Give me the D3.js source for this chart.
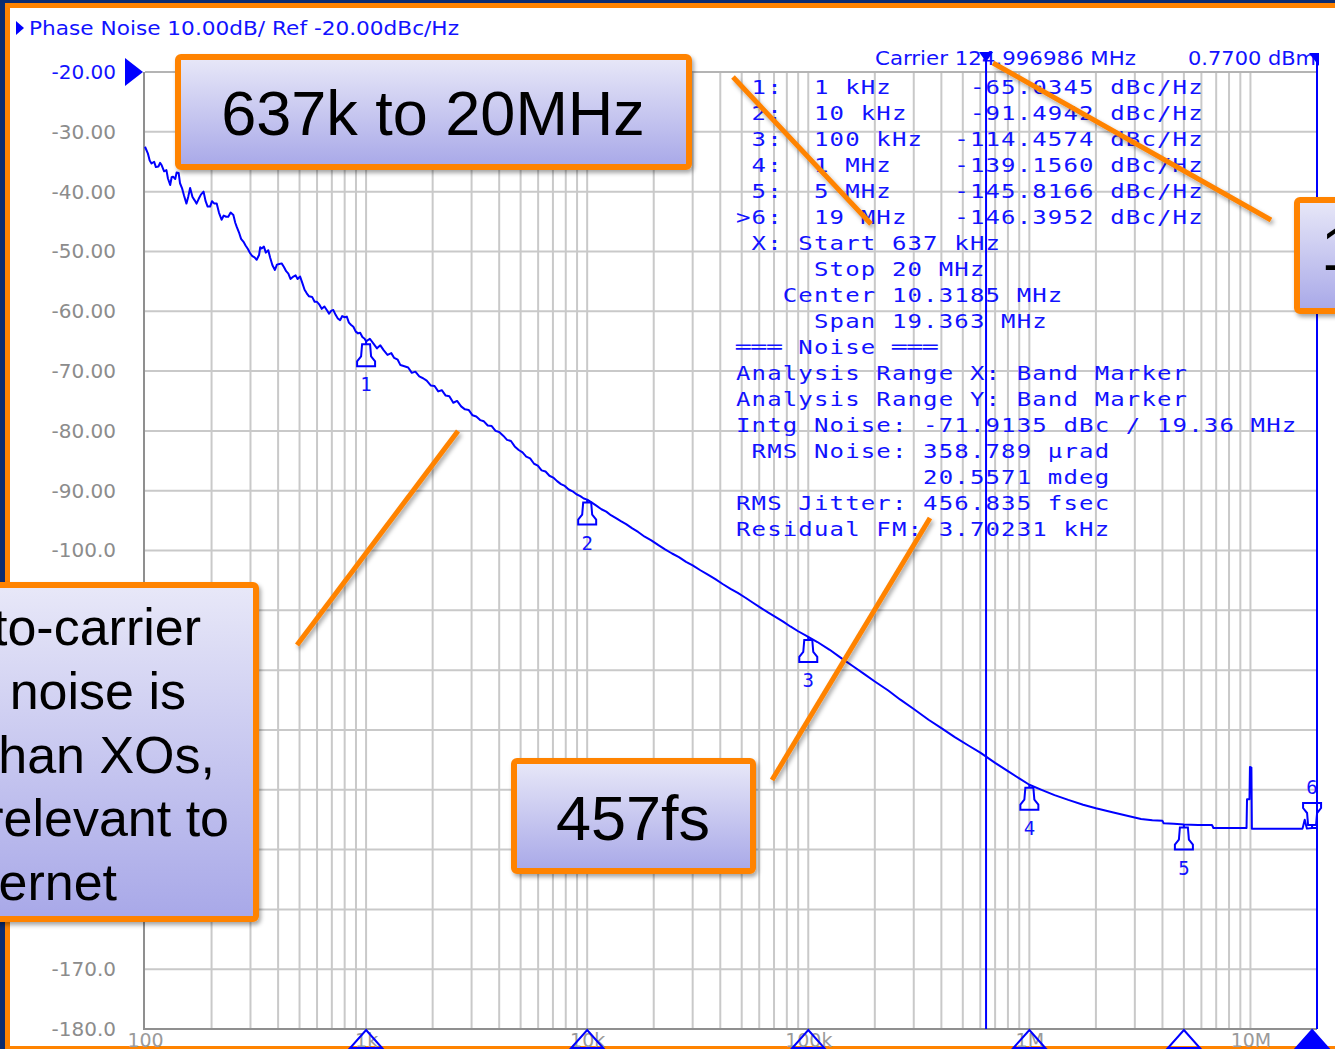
<!DOCTYPE html>
<html>
<head>
<meta charset="utf-8">
<script src="https://cdn.jsdelivr.net/npm/d3@7"></script>
<style>
  html, body { margin: 0; padding: 0; background: #fff; overflow: hidden; }
  svg { display: block; }
  text { white-space: pre; }
</style>
</head>
<body>
<svg id="chart" width="1335" height="1049"></svg>
<script>
// ---- Phase noise trace: offset frequency (Hz) and L(f) (dBc/Hz) ----
const traceFreq = [
  100, 103, 105, 107, 110, 112, 115, 117, 119, 122, 125, 127, 130, 132, 134, 137, 139, 142, 144, 147,
  150, 154, 157, 160, 164, 168, 171, 175, 179, 184, 188, 192, 197, 201, 206, 211, 216, 222, 227, 233,
  238, 244, 251, 256, 260, 266, 272, 279, 285, 292, 299, 306, 313, 320, 328, 332, 337, 345, 352, 361,
  368, 377, 387, 395, 405, 415, 425, 435, 445, 455, 469, 480, 490, 503, 515, 527, 539, 552, 570, 585,
  598, 615, 630, 648, 664, 680, 697, 711, 728, 745, 763, 780, 800, 818, 836, 856, 876, 898, 920, 940,
  962, 985, 1000,
  1040, 1080, 1120, 1160, 1200, 1250, 1300, 1340, 1390, 1430, 1490, 1550, 1610, 1670, 1740, 1810, 1880,
  1960, 2040, 2120, 2200, 2290, 2380, 2480, 2580, 2690, 2800, 2910, 3030, 3150, 3280, 3410, 3550, 3700,
  3850, 4000, 4170, 4340, 4520, 4700, 4900, 5100, 5300, 5520, 5750, 5980, 6220, 6480, 6750, 7020, 7310,
  7610, 7920, 8250, 8590, 8940, 9310, 9650, 10000,
  10500, 11000, 11600, 12200, 12800, 13500, 14200, 15000, 16000, 17000, 18200, 19500, 21000, 22500,
  24200, 26000, 28000, 30000, 32500, 35000, 38000, 41000, 44500, 48000, 52000, 56000, 61000, 66000,
  71000, 77000, 83000, 90000, 100000,
  110000, 125000, 140000, 160000, 180000, 200000, 230000, 260000, 300000, 350000, 400000, 460000,
  530000, 600000, 700000, 800000, 900000, 1000000,
  1150000, 1300000, 1500000, 1750000, 2000000, 2400000, 2800000, 3200000, 3600000, 4000000, 4050000,
  4500000, 5000000, 5800000, 6700000, 6800000, 9600000, 9650000, 9900000, 9950000, 10100000, 10150000,
  17200000, 17600000, 18000000, 19000000, 20000000
];
const traceDb = [
  -32.5, -33.6, -34.8, -35.3, -35.0, -35.9, -35.8, -35.2, -35.6, -36.6, -36.4, -37.8, -38.9, -37.6, -37.5, -37.9, -36.8, -36.9, -38.6, -39.4,
  -40.6, -42.0, -40.8, -39.4, -40.9, -41.5, -42.0, -41.2, -40.5, -40.0, -41.6, -42.5, -42.5, -41.6, -42.0, -42.0, -43.5, -44.7, -44.0, -44.2,
  -44.2, -43.5, -43.9, -45.2, -45.9, -46.8, -47.9, -48.4, -49.0, -49.6, -50.3, -50.8, -51.0, -51.4, -50.6, -49.3, -49.5, -49.2, -50.2, -49.8,
  -51.0, -52.3, -53.1, -52.2, -52.1, -52.0, -52.6, -53.3, -53.7, -54.6, -54.2, -54.0, -54.6, -54.2, -55.3, -56.4, -57.0, -57.5, -57.6, -58.4,
  -58.4, -58.9, -59.6, -59.2, -59.8, -60.4, -59.9, -59.8, -60.6, -61.2, -61.5, -60.8, -61.0, -60.9, -61.9, -62.3, -62.6, -63.4, -63.7, -63.6,
  -64.3, -64.6, -65.03,
  -64.6, -65.4, -66.2, -65.7, -66.5, -67.3, -67.0, -67.8, -68.1, -69.0, -69.2, -69.4, -70.3, -70.1, -70.9, -71.2, -71.6,
  -72.4, -72.5, -73.4, -73.2, -74.1, -74.2, -75.3, -75.0, -75.9, -76.4, -76.5, -77.4, -77.6, -78.2, -78.4, -79.1, -79.2,
  -80.0, -80.2, -80.8, -81.5, -81.7, -82.6, -83.2, -83.6, -84.3, -84.6, -85.5, -85.8, -86.6, -86.8, -87.5, -87.8, -88.4,
  -88.9, -89.2, -89.8, -90.1, -90.6, -90.9, -91.3, -91.49,
  -92.0, -92.5, -93.1, -93.5, -94.1, -94.6, -95.1, -95.6, -96.3, -96.9, -97.7, -98.3, -99.1, -99.8,
  -100.5, -101.1, -101.9, -102.5, -103.3, -104.0, -104.8, -105.6, -106.4, -107.1, -107.9, -108.7, -109.6, -110.4,
  -111.1, -111.9, -112.7, -113.5, -114.46,
  -115.3, -116.6, -117.9, -119.4, -120.7, -121.9, -123.4, -124.9, -126.5, -128.3, -129.7, -131.2,
  -132.6, -133.8, -135.5, -136.9, -138.1, -139.16,
  -140.1, -140.9, -141.7, -142.5, -143.1, -143.8, -144.4, -144.9, -145.1, -145.2, -145.6,
  -145.7, -145.82, -145.9, -145.9, -146.4, -146.4, -141.6, -141.6, -136.2, -136.3, -146.5,
  -146.5, -145.0, -146.5, -146.4, -146.4
];

// ---- Markers ----
const markerFreq = [1e3, 1e4, 1e5, 1e6, 5e6, 19e6];
const markerFreqLabel = ["1 kHz", "10 kHz", "100 kHz", "1 MHz", "5 MHz", "19 MHz"];
const markerDb = [-65.0345, -91.4942, -114.4574, -139.1560, -145.8166, -146.3952];
const activeMarker = 5;

// ---- Band (integration range) ----
const bandStart = 637e3;
const bandStop = 20e6;

// ---- Axes ----
const yGridValues = [-30, -40, -50, -60, -70, -80, -90, -100, -110, -120, -130, -140, -150, -160, -170];
const yTickValues = [-20, -30, -40, -50, -60, -70, -80, -90, -100, -170, -180];
const yTickLabels = ["-20.00", "-30.00", "-40.00", "-50.00", "-60.00", "-70.00", "-80.00", "-90.00",
  "-100.0", "-170.0", "-180.0"];
const xTickValues = [1e2, 1e3, 1e4, 1e5, 1e6, 1e7];
const xTickLabels = ["100", "1k", "10k", "100k", "1M", "10M"];

// ---- Readout text ----
const headerText = "Phase Noise 10.00dB/ Ref -20.00dBc/Hz";
const carrierText = "Carrier 124.996986 MHz";
const carrierPower = "0.7700 dBm";
const infoLines = [
  " X: Start 637 kHz",
  "     Stop 20 MHz",
  "   Center 10.3185 MHz",
  "     Span 19.363 MHz",
  "═══ Noise ═══",
  "Analysis Range X: Band Marker",
  "Analysis Range Y: Band Marker",
  "Intg Noise: -71.9135 dBc / 19.36 MHz",
  " RMS Noise: 358.789 µrad",
  "            20.5571 mdeg",
  "RMS Jitter: 456.835 fsec",
  "Residual FM: 3.70231 kHz"
];

// ---- Slide callouts ----
const calloutRange = "637k to 20MHz";
const calloutJitter = "457fs";
const calloutNote = ["Close-to-carrier", "phase noise is", "worse than XOs,", "but not relevant to", "Ethernet"];
const calloutRight = "125MHz";

// ================= drawing =================
const svg = d3.select("#chart");
const W = 1335, H = 1049;
const BLUE = "#0000ff", TXT_BLUE = "#1212ff", GRID = "#c9c9c9", AXIS = "#8f8f8f";
const ORANGE = "#ff8300", NAVY = "#0c2c70";

const defs = svg.append("defs");
const grad = defs.append("linearGradient").attr("id", "boxFill")
  .attr("x1", 0).attr("y1", 0).attr("x2", 0).attr("y2", 1);
grad.append("stop").attr("offset", "0%").attr("stop-color", "#e8e8f8");
grad.append("stop").attr("offset", "100%").attr("stop-color", "#a8a8e8");
const shadow = defs.append("filter").attr("id", "shadow")
  .attr("x", "-10%").attr("y", "-10%").attr("width", "130%").attr("height", "130%");
shadow.append("feDropShadow").attr("dx", 2).attr("dy", 3).attr("stdDeviation", 2)
  .attr("flood-color", "#000").attr("flood-opacity", 0.35);

// slide frame
svg.append("rect").attr("width", W).attr("height", H).attr("fill", "#fff");
svg.append("rect").attr("x", 0).attr("y", 0).attr("width", W).attr("height", 3).attr("fill", NAVY);
svg.append("rect").attr("x", 0).attr("y", 3).attr("width", W).attr("height", 5).attr("fill", ORANGE);
svg.append("rect").attr("x", 0).attr("y", 0).attr("width", 5).attr("height", H).attr("fill", NAVY);
svg.append("rect").attr("x", 5).attr("y", 3).attr("width", 5).attr("height", H).attr("fill", ORANGE);
svg.append("rect").attr("x", 5).attr("y", 1046).attr("width", W).attr("height", 3).attr("fill", ORANGE);

// scales
const x = d3.scaleLog().domain([100, 2e7]).range([145, 1317]);
const y = d3.scaleLinear().domain([-20, -180]).range([72, 1029]);
const [x0, x1] = x.range();
const [y0, y1] = y.range();

// grid
const grid = svg.append("g");
grid.selectAll("line.v").data(x.ticks().filter(d => d > 100 && d < 2e7)).join("line")
  .attr("x1", d => x(d)).attr("x2", d => x(d)).attr("y1", y0).attr("y2", y1)
  .attr("stroke", GRID).attr("stroke-width", 2);
grid.selectAll("line.h").data(yGridValues).join("line")
  .attr("x1", x0).attr("x2", x1).attr("y1", d => y(d)).attr("y2", d => y(d))
  .attr("stroke", GRID).attr("stroke-width", 2);
grid.append("line").attr("x1", x0).attr("x2", x1).attr("y1", y0).attr("y2", y0)
  .attr("stroke", "#b4b4b4").attr("stroke-width", 2);
grid.append("line").attr("x1", x0 - 1).attr("x2", x0 - 1).attr("y1", y0).attr("y2", y1 + 1)
  .attr("stroke", AXIS).attr("stroke-width", 2);
grid.append("line").attr("x1", x0 - 1).attr("x2", x1).attr("y1", y1).attr("y2", y1)
  .attr("stroke", AXIS).attr("stroke-width", 2);

// y axis labels
const yAxis = svg.append("g").attr("transform", `translate(${x0},0)`)
  .call(d3.axisLeft(y).tickValues(yTickValues).tickFormat((d, i) => yTickLabels[i]).tickSize(0).tickPadding(29));
yAxis.select(".domain").remove();
yAxis.selectAll("text").attr("font-family", "DejaVu Sans, sans-serif").attr("font-size", 20)
  .attr("fill", (d, i) => i === 0 ? TXT_BLUE : "#8c8c8c");
// reference level pointer
svg.append("path").attr("d", `M125,58 L143,${y0} L125,86 Z`).attr("fill", BLUE);

// x axis labels
const xAxis = svg.append("g").attr("transform", `translate(0,${y1})`)
  .call(d3.axisBottom(x).tickValues(xTickValues).tickFormat((d, i) => xTickLabels[i]).tickSize(0).tickPadding(4));
xAxis.select(".domain").remove();
xAxis.selectAll("text").attr("font-family", "DejaVu Sans, sans-serif").attr("font-size", 19).attr("fill", "#9a9a9a");

// header
svg.append("path").attr("d", "M16,21 L24,28 L16,35 Z").attr("fill", BLUE);
svg.append("text").attr("x", 29).attr("y", 35).text(headerText)
  .attr("font-family", "DejaVu Sans, sans-serif").attr("font-size", 19).attr("fill", TXT_BLUE)
  .attr("textLength", 430).attr("lengthAdjust", "spacingAndGlyphs");

// carrier readout
svg.append("text").attr("x", 875).attr("y", 65).text(carrierText)
  .attr("font-family", "DejaVu Sans, sans-serif").attr("font-size", 19).attr("fill", TXT_BLUE)
  .attr("textLength", 261).attr("lengthAdjust", "spacingAndGlyphs");
svg.append("text").attr("x", 1188).attr("y", 65).text(carrierPower)
  .attr("font-family", "DejaVu Sans, sans-serif").attr("font-size", 19).attr("fill", TXT_BLUE)
  .attr("textLength", 128).attr("lengthAdjust", "spacingAndGlyphs");

// marker / noise table (monospace columns, 15.6px pitch)
const tableX = 736, rowTop = 87, rowH = 26, stretch = 1.2;
const markerRows = markerDb.map((v, i) => {
  const val = v.toFixed(4);
  const head = (i === activeMarker ? ">" : " ") + (i + 1) + ":  " + markerFreqLabel[i];
  return head.padEnd(23 - val.length) + val + " dBc/Hz";
});
const allRows = markerRows.concat(infoLines);
svg.append("g").attr("transform", `translate(${tableX},0) scale(${stretch},1)`)
  .selectAll("text").data(allRows).join("text")
  .attr("x", 0).attr("y", (d, i) => rowTop + i * rowH + 7)
  .attr("font-family", "DejaVu Sans Mono, monospace").attr("font-size", 20)
  .attr("letter-spacing", "0.96px").attr("fill", TXT_BLUE)
  .text(d => d);

// trace
const trace = traceFreq.map((f, i) => [f, traceDb[i]]);
svg.append("path").datum(trace)
  .attr("d", d3.line().x(d => x(d[0])).y(d => y(d[1])))
  .attr("fill", "none").attr("stroke", BLUE).attr("stroke-width", 2).attr("stroke-linejoin", "round");

// markers on trace
const mk = svg.append("g");
markerFreq.forEach((f, i) => {
  const mx = x(f), my = y(markerDb[i]);
  const s = i === activeMarker ? -1 : 1;
  const p = (dx, dy) => `${mx + dx},${my + s * dy}`;
  mk.append("path")
    .attr("d", `M${p(0, 0)} L${p(0, 3)} M${p(-4, 3)} L${p(4, 3)} L${p(5, 15)} L${p(9, 20)} L${p(9, 25)} L${p(-9, 25)} L${p(-9, 20)} L${p(-5, 15)} Z`)
    .attr("fill", "none").attr("stroke", BLUE).attr("stroke-width", 2);
  mk.append("text").attr("x", mx).attr("y", s > 0 ? my + 50 : my - 34)
    .attr("text-anchor", "middle").attr("font-family", "DejaVu Sans Mono, monospace")
    .attr("font-size", 19).attr("fill", TXT_BLUE).text(i + 1);
  // marker flags along the frequency axis
  mk.append("path").attr("d", `M${mx},${y1 + 1} L${mx + 16},${y1 + 19} L${mx - 16},${y1 + 19} Z`)
    .attr("fill", i === activeMarker ? BLUE : "none").attr("stroke", BLUE).attr("stroke-width", 2);
});

// band marker lines
[bandStart, bandStop].forEach(f => {
  const bx = x(f);
  svg.append("line").attr("x1", bx).attr("x2", bx).attr("y1", 55).attr("y2", y1)
    .attr("stroke", BLUE).attr("stroke-width", 2);
});
svg.append("path").attr("d", `M${x(bandStart) - 7},52 L${x(bandStart) + 7},52 L${x(bandStart)},62 Z`).attr("fill", BLUE);
svg.append("path").attr("d", `M${x(bandStop) - 8},53 L${x(bandStop) + 2},53 L${x(bandStop) + 2},66 Z`).attr("fill", BLUE);

// ---- callouts ----
const co = svg.append("g");
const lines = [
  [733, 77, 871, 224],
  [993, 63, 1271, 220],
  [930, 518, 772, 780],
  [458, 431, 297, 645]
];
co.selectAll("line").data(lines).join("line")
  .attr("x1", d => d[0]).attr("y1", d => d[1]).attr("x2", d => d[2]).attr("y2", d => d[3])
  .attr("stroke", ORANGE).attr("stroke-width", 5).attr("filter", "url(#shadow)");

function box(bx, by, bw, bh) {
  co.append("rect").attr("x", bx).attr("y", by).attr("width", bw).attr("height", bh).attr("rx", 3)
    .attr("fill", "url(#boxFill)").attr("stroke", ORANGE).attr("stroke-width", 6)
    .attr("filter", "url(#shadow)");
}
const bigFont = "Liberation Sans, Arial, sans-serif";

box(178, 57, 511, 110);
co.append("text").attr("x", 433).attr("y", 135).attr("text-anchor", "middle")
  .attr("font-family", bigFont).attr("font-size", 63).attr("fill", "#000").text(calloutRange);

box(514, 761, 239, 110);
co.append("text").attr("x", 633).attr("y", 840).attr("text-anchor", "middle")
  .attr("font-family", bigFont).attr("font-size", 63).attr("fill", "#000").text(calloutJitter);

box(1297, 200, 60, 111);
co.append("text").attr("x", 1321).attr("y", 270)
  .attr("font-family", bigFont).attr("font-size", 63).attr("fill", "#000").text(calloutRight);

box(-40, 585, 296, 334);
const noteEnds = [201, 186, 215, 229, 117];
co.selectAll("text.note").data(calloutNote).join("text").attr("class", "note")
  .attr("x", (d, i) => noteEnds[i]).attr("y", (d, i) => 645 + i * 63.8)
  .attr("text-anchor", "end").attr("font-family", bigFont).attr("font-size", 52)
  .attr("fill", "#000").text(d => d);
</script>
</body>
</html>
